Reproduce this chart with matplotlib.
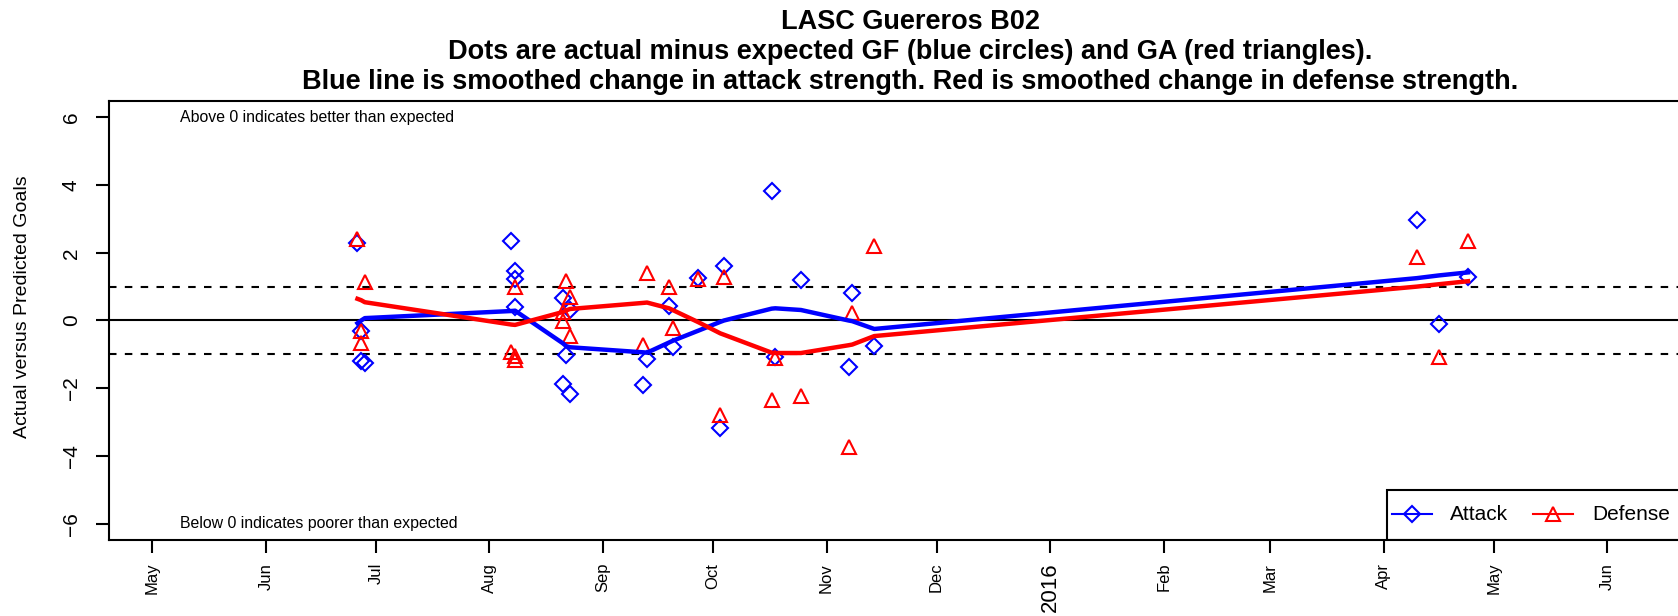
import matplotlib
matplotlib.use('Agg')
import matplotlib.pyplot as plt
import pandas as pd
from matplotlib.lines import Line2D
from matplotlib.patches import Rectangle

plt.rcParams['font.family'] = ['Liberation Sans', 'DejaVu Sans']

# one entry per game
game_dates = ['2015-06-26', '2015-06-27', '2015-06-27', '2015-06-28',
              '2015-08-07', '2015-08-08', '2015-08-08', '2015-08-08',
              '2015-08-21', '2015-08-21', '2015-08-22', '2015-08-23', '2015-08-23',
              '2015-09-12', '2015-09-13', '2015-09-19', '2015-09-20', '2015-09-27',
              '2015-10-03', '2015-10-04', '2015-10-17', '2015-10-18', '2015-10-25',
              '2015-11-07', '2015-11-08', '2015-11-14',
              '2016-04-10', '2016-04-16', '2016-04-24']
attack = [2.29, -0.32, -1.20, -1.26,
          2.35, 1.47, 1.23, 0.41,
          -1.86, 0.67, -1.03, 0.32, -2.16,
          -1.89, -1.13, 0.42, -0.78, 1.26,
          -3.16, 1.62, 3.82, -1.08, 1.20,
          -1.37, 0.80, -0.74,
          2.96, -0.10, 1.29]
defense = [2.40, -0.31, -0.66, 1.13,
           -0.93, -1.05, -1.16, 0.98,
           0.25, -0.02, 1.18, 0.69, -0.47,
           -0.71, 1.39, 1.00, -0.23, 1.23,
           -2.78, 1.28, -2.35, -1.10, -2.23,
           -3.73, 0.21, 2.21,
           1.88, -1.08, 2.35]
attack_smooth = [-0.08, 0.00, 0.00, 0.07,
                 0.28, 0.29, 0.29, 0.29,
                 -0.67, -0.67, -0.76, -0.79, -0.79,
                 -0.94, -0.95, -0.65, -0.60, -0.30,
                 -0.04, 0.00, 0.35, 0.36, 0.31,
                 0.00, -0.02, -0.25,
                 1.25, 1.33, 1.42]
defense_smooth = [0.64, 0.60, 0.60, 0.54,
                  -0.12, -0.13, -0.13, -0.13,
                  0.25, 0.25, 0.30, 0.34, 0.34,
                  0.52, 0.53, 0.36, 0.31, -0.05,
                  -0.38, -0.42, -0.95, -0.96, -0.96,
                  -0.73, -0.71, -0.46,
                  1.00, 1.07, 1.16]

month_ticks = pd.date_range('2015-05-01', '2016-06-01', freq='MS')
month_labels = ['May', 'Jun', 'Jul', 'Aug', 'Sep', 'Oct', 'Nov', 'Dec',
                '2016', 'Feb', 'Mar', 'Apr', 'May', 'Jun']
y_ticks = [-6, -4, -2, 0, 2, 4, 6]

dates = pd.to_datetime(game_dates)

fig = plt.figure(figsize=(16.78, 6.16), dpi=100)
ax = fig.add_axes([0.06496, 0.12338, 0.95471, 0.71266])

ax.axhline(0, color='black', lw=1.5)
for lev in (-1, 1):
    ax.axhline(lev, color='black', lw=1.5, dashes=(3.6, 4.0))

ax.plot(dates, attack, ls='none', marker='D', ms=8, mfc='none', mec='blue', mew=1.5)
ax.plot(dates, defense, ls='none', marker='^', ms=9.5, mfc='none', mec='red', mew=1.5)
ax.plot(dates, attack_smooth, color='blue', lw=3.2)
ax.plot(dates, defense_smooth, color='red', lw=3.2)

ax.set_xlim(pd.Timestamp('2015-04-19 05:00'), pd.Timestamp('2016-06-29 07:00'))
ax.set_ylim(-6.48, 6.48)

ax.set_xticks(month_ticks, month_labels)
ax.set_yticks(y_ticks)
ax.tick_params(axis='x', labelrotation=90, labelsize=12, length=9.4, width=1.5, pad=7)
ax.tick_params(axis='y', labelrotation=90, labelsize=15, length=9.4, width=1.5, pad=11)
for lbl in ax.get_yticklabels():
    lbl.set_va('center')
for lbl in ax.get_xticklabels():
    if lbl.get_text() == '2016':
        lbl.set_fontsize(16)
for s in ax.spines.values():
    s.set_linewidth(1.5)

ax.set_ylabel('Actual versus Predicted Goals', fontsize=14)
ax.yaxis.set_label_coords(-0.0484, 0.532)

ax.text(pd.Timestamp('2015-05-08 12:00'), 6, 'Above 0 indicates better than expected',
        fontsize=11.4, ha='left', va='center')
ax.text(pd.Timestamp('2015-05-08 12:00'), -6, 'Below 0 indicates poorer than expected',
        fontsize=11.4, ha='left', va='center')

titles = ['LASC Guereros B02',
          'Dots are actual minus expected GF (blue circles) and GA (red triangles).',
          'Blue line is smoothed change in attack strength. Red is smoothed change in defense strength.']
for t, yy in zip(titles, [1.164, 1.0957, 1.0273]):
    ax.text(0.5, yy, t, transform=ax.transAxes, ha='center', va='baseline',
            fontsize=19.5, fontweight='bold')

# legend box in the bottom right corner
ax.add_patch(Rectangle((0.7978, 0), 0.3, 0.1139, transform=ax.transAxes,
                       fill=False, edgecolor='black', lw=1.5))
ly = 0.0592
ax.add_line(Line2D([0.8009, 0.8258], [ly, ly], transform=ax.transAxes, color='blue', lw=1.5))
ax.add_line(Line2D([0.8134], [ly], transform=ax.transAxes, ls='none', marker='D', ms=8,
                   mfc='none', mec='blue', mew=1.5))
ax.text(0.8371, ly, 'Attack', transform=ax.transAxes, fontsize=15, va='center')
ax.add_line(Line2D([0.8889, 0.9139], [ly, ly], transform=ax.transAxes, color='red', lw=1.5))
ax.add_line(Line2D([0.9014], [ly], transform=ax.transAxes, ls='none', marker='^', ms=9.5,
                   mfc='none', mec='red', mew=1.5))
ax.text(0.9257, ly, 'Defense', transform=ax.transAxes, fontsize=15, va='center')

fig.savefig('out.png', dpi=100)
